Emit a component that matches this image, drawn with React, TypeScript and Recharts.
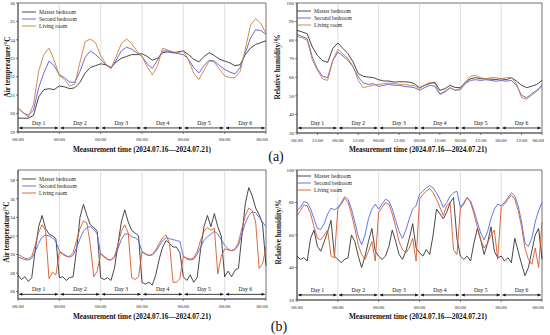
import React from 'react'
import { LineChart, Line, XAxis, YAxis, ReferenceLine, ReferenceArea } from 'recharts'

const FONT = '"Liberation Serif", "Times New Roman", serif'

// sampling grids (hours since 2024.07.16 00:00)
const HOURS_A = [0, 3, 6, 9, 12, 15, 18, 21, 24, 27, 30, 33, 36, 39, 42, 45, 48, 51, 54, 57, 60, 63, 66, 69, 72, 75, 78, 81, 84, 87, 90, 93, 96, 99, 102, 105, 108, 111, 114, 117, 120, 123, 126, 129, 132, 135, 138, 141, 144]
const HOURS_B = [0, 2, 4, 6, 8, 10, 12, 14, 16, 18, 20, 22, 24, 26, 28, 30, 32, 34, 36, 38, 40, 42, 44, 46, 48, 50, 52, 54, 56, 58, 60, 62, 64, 66, 68, 70, 72, 74, 76, 78, 80, 82, 84, 86, 88, 90, 92, 94, 96, 98, 100, 102, 104, 106, 108, 110, 112, 114, 116, 118, 120, 122, 124, 126, 128, 130, 132, 134, 136, 138, 140, 142, 144]

// (a) air temperature
const A_T_MASTER = [29.75, 29.75, 29.75, 29.9, 30.9, 31.3, 31.35, 31.3, 31.5, 31.45, 31.35, 31.4, 31.7, 32.2, 32.5, 32.6, 32.7, 32.65, 32.5, 32.8, 33.0, 33.1, 33.2, 33.2, 33.25, 33.1, 32.9, 33.0, 33.3, 33.35, 33.3, 33.35, 33.4, 33.2, 32.95, 32.8, 33.1, 33.3, 33.15, 32.95, 32.85, 32.75, 32.6, 32.65, 33.2, 33.55, 33.75, 33.85, 33.95]
const A_T_SECOND = [30.3, 30.05, 29.9, 30.2, 31.4, 32.2, 32.85, 32.6, 32.1, 31.95, 31.7, 31.7, 32.3, 33.05, 33.4, 33.2, 32.95, 32.65, 32.45, 32.9, 33.4, 33.6, 33.5, 33.3, 33.1, 32.7, 32.45, 32.9, 33.4, 33.4, 33.3, 33.25, 33.2, 32.95, 32.5, 32.2, 32.6, 32.9, 32.85, 32.6, 32.4, 32.25, 32.15, 32.5, 33.3, 34.1, 34.55, 34.5, 34.3]
const A_T_LIVING = [30.3, 30.05, 29.8, 30.5, 32.3, 33.2, 33.55, 32.9, 32.05, 31.85, 31.5, 31.6, 32.8, 33.9, 34.05, 33.85, 33.15, 32.7, 32.45, 33.1, 33.8, 34.05, 33.8, 33.4, 33.1, 32.55, 32.1, 32.6, 33.55, 33.45, 33.35, 33.3, 33.4, 32.9, 32.2, 31.85, 32.35, 32.85, 32.8, 32.4, 32.05, 31.95, 31.95, 32.3, 33.5, 34.8, 35.15, 34.9, 34.35]

// (a) relative humidity
const A_RH_MASTER = [85.3, 84.4, 83.5, 76.3, 71.8, 69, 68, 75.5, 78.5, 75.5, 72.7, 68.2, 62, 60.5, 60.1, 59.8, 58.7, 58, 58, 57.4, 57.6, 57.6, 57.4, 56.6, 54.4, 55.7, 56.6, 57.4, 53, 53.9, 55.7, 54.5, 54.4, 57.4, 59.2, 59.8, 59.2, 59.2, 59, 58.8, 59.2, 58.7, 59.8, 58, 55.7, 54.4, 55.2, 56.2, 58.4]
const A_RH_SECOND = [83.1, 82, 80.8, 70.9, 64.6, 60.5, 59.8, 69, 73.5, 71.5, 69.1, 65.5, 60.1, 56.9, 56.2, 56.6, 55.1, 55.7, 56.2, 55.7, 55.7, 55.1, 54.8, 54.4, 53, 54.4, 55.7, 55.1, 50.8, 52.1, 54.4, 53, 53.3, 56.6, 58.3, 58.7, 58.3, 58.7, 58.3, 57.9, 58.3, 57.9, 58.3, 55.7, 50.3, 49, 51.2, 53, 55.7]
const A_RH_LIVING = [82, 81.3, 79.9, 69.5, 63.7, 59.2, 58.3, 69, 75, 72.5, 70, 65.9, 58.3, 54.4, 55.1, 55.7, 56.2, 56.6, 56.9, 56.6, 56.2, 56.2, 55.7, 55.5, 53.9, 55.7, 57.4, 56.6, 51.2, 52.6, 54.4, 53, 53.9, 57.4, 60.5, 61, 59.8, 59.2, 59.8, 59.8, 59.2, 59.8, 59.8, 56.6, 49, 48.3, 50.3, 52.6, 55.1]

// (b) air temperature
const B_T_MASTER = [
  27.8, 27.3, 27.6, 27.1, 27.5, 30.5, 33.0, 34.2, 32.8, 32.2, 32.0, 31.7,
  27.5, 27.6, 27.2, 27.5, 27.6, 30.5, 34.0, 35.4, 34.2, 33.2, 32.9, 32.5,
  27.5, 27.3, 27.5, 27.2, 28.5, 31.0, 33.5, 34.8, 33.5, 32.6, 32.3, 32.0,
  27.0, 26.8, 27.0, 26.7, 27.8, 29.5, 30.8, 31.5, 31.2, 30.8, 30.8, 30.2,
  27.6, 27.2, 27.8, 27.0, 27.5, 30.5, 33.0, 34.2, 33.0, 34.4, 33.0, 32.0,
  27.6, 28.2, 27.6, 28.3, 28.5, 32.0, 35.5, 37.2, 36.3, 35.0, 34.3, 33.3,
  28.8]
const B_T_SECOND = [
  29.7, 29.6, 29.45, 29.4, 29.6, 30.3, 31.2, 31.9, 32.1, 32.0, 31.8, 31.4,
  30.4, 30.1, 29.85, 29.7, 29.9, 30.7, 31.7, 32.5, 32.9, 33.0, 32.7, 32.2,
  30.1, 29.7, 29.45, 29.4, 29.7, 30.6, 31.6, 32.2, 32.2, 31.9, 31.8, 31.5,
  30.3, 30.0, 29.9, 29.95, 30.3, 30.9, 31.5, 31.8, 31.7, 31.6, 31.5, 31.4,
  29.8, 29.5, 29.4, 29.5, 30.0, 30.8, 31.5, 31.9, 32.2, 32.5, 32.2, 31.6,
  31.0, 30.6, 30.4, 30.5, 31.0, 32.2, 33.4, 34.2, 34.6, 34.5, 34.0, 33.5,
  33.0]
const B_T_LIVING = [
  30.0, 29.8, 29.6, 29.5, 29.8, 31.0, 32.4, 33.2, 32.6, 27.4, 28.1, 27.8,
  30.3, 30.0, 29.8, 29.8, 30.2, 31.5, 32.8, 33.6, 33.4, 31.0, 27.6, 28.2,
  30.1, 29.8, 29.5, 29.4, 29.8, 31.0, 32.5, 33.2, 32.3, 27.5, 27.3, 27.6,
  30.3, 30.1, 29.9, 30.0, 30.5, 31.2, 31.8, 32.1, 31.2, 27.0, 27.0, 27.4,
  29.8, 29.6, 29.5, 29.6, 30.3, 31.5, 32.5, 32.9, 32.6, 32.8, 27.9, 29.8,
  30.6, 30.5, 30.4, 30.6, 31.3, 32.8, 34.2, 35.0, 34.7, 33.5, 28.5, 29.0,
  30.8]

// (b) relative humidity
const B_RH_MASTER = [
  47, 45, 46, 44, 58, 63, 53, 50, 56, 62, 69, 47,
  45, 43, 45, 46, 60, 56, 47, 40, 47, 56, 64, 50,
  47, 45, 47, 53, 63, 56, 48, 45, 50, 58, 67, 52,
  49, 47, 51, 48, 60, 76, 73, 70, 74, 80, 83, 58,
  47, 45, 47, 44, 55, 64, 57, 48, 55, 65, 50, 46,
  47, 44, 46, 43, 58, 50, 42, 35, 40, 50, 60, 64,
  45]
const B_RH_SECOND = [
  75, 77, 80.5, 80, 76, 70, 64, 63.5, 67, 73, 76.5, 75.5,
  77, 80, 83.5, 82, 76, 68, 59, 54, 60, 70, 76, 79,
  76, 79, 82, 81, 76, 69, 62, 58, 63, 70, 76, 78,
  85, 87, 89, 90.5, 89, 86, 82, 77, 80, 84, 86, 87,
  77, 80, 83, 81, 75, 68, 61, 57, 62, 70, 76, 79,
  78, 80, 83, 86, 84, 78, 68, 55, 53, 58, 68, 75,
  80]
const B_RH_LIVING = [
  72, 75, 78.5, 78, 73, 65, 58, 57, 60, 63, 47, 46,
  76, 79, 82.5, 80, 73, 64, 54, 48, 45, 50, 56, 44,
  74, 77, 80, 79, 73, 65, 56, 51, 49, 52, 58, 44,
  82, 85, 87, 88.5, 86, 82, 77, 72, 78, 80, 51, 48,
  76, 79, 83, 80, 73, 65, 57, 52, 55, 60, 63, 45,
  77, 79, 82, 84.5, 82, 75, 65, 52, 45, 42, 52, 40,
  68]

const DAYS = ['Day 1', 'Day 2', 'Day 3', 'Day 4', 'Day 5', 'Day 6']
const DAY_TICKS = [0, 24, 48, 72, 96, 120, 144]
const HALF_DAY_TICKS = [0, 12, 24, 36, 48, 60, 72, 84, 96, 108, 120, 132, 144]
const SERIES = ['Master bedroom', 'Second bedroom', 'Living room']

const COLORS_A = ['#333333', '#5b5bd6', '#c9803f']
const COLORS_B = ['#333333', '#4d6be0', '#d8592c']

const build = (hours: number[], m: number[], s: number[], l: number[]) =>
  hours.map((h, i) => ({ h, master: m[i], second: s[i], living: l[i] }))

// double headed arrow + day label, drawn by ReferenceLine
const DayArrow = (p: any) => {
  const { x1, y1, x2, label } = p
  const hl = 3.2, hw = 1.5
  return (
    <g>
      <line x1={x1} y1={y1} x2={x2} y2={y1} stroke="#111" strokeWidth={0.8} />
      <polygon points={`${x1},${y1} ${x1 + hl},${y1 - hw} ${x1 + hl},${y1 + hw}`} fill="#111" />
      <polygon points={`${x2},${y1} ${x2 - hl},${y1 - hw} ${x2 - hl},${y1 + hw}`} fill="#111" />
      <text x={(x1 + x2) / 2} y={y1 - 3.2} textAnchor="middle" fontSize={5.6} fontFamily={FONT} fill="#111">{label}</text>
    </g>
  )
}

interface PanelProps {
  left: number; top: number; width: number; height: number
  marginTop: number; marginLeft: number
  data: any[]
  yDomain: [number, number]
  yTicks: number[]
  xTicks: number[]
  arrowY: number
  colors: string[]
}

function Panel(p: PanelProps) {
  const tickStyle = { fontSize: 5, fill: '#222', fontFamily: FONT }
  const fmt = (v: number) => (v % 24 === 0 ? '00:00' : '12:00')
  return (
    <div style={{ position: 'absolute', left: p.left, top: p.top }}>
      <LineChart width={p.width} height={p.height} data={p.data}
        margin={{ top: p.marginTop, right: 2, bottom: 2, left: p.marginLeft }}>
        <XAxis dataKey="h" type="number" domain={[0, 144]} ticks={p.xTicks} tickFormatter={fmt}
          height={12} tickSize={2} tickMargin={3} tick={tickStyle}
          axisLine={{ stroke: '#333', strokeWidth: 0.7 }} tickLine={{ stroke: '#333', strokeWidth: 0.6 }} />
        <YAxis type="number" domain={p.yDomain} ticks={p.yTicks} allowDataOverflow width={14}
          tickSize={2} tickMargin={1} tick={tickStyle}
          axisLine={{ stroke: '#333', strokeWidth: 0.7 }} tickLine={{ stroke: '#333', strokeWidth: 0.6 }} />
        {[24, 48, 72, 96, 120].map(x => (
          <ReferenceLine key={x} x={x} stroke="#d0d0d0" strokeWidth={0.7} />
        ))}
        <ReferenceArea x1={0} x2={144} y1={p.yDomain[0]} y2={p.yDomain[1]} fill="none" stroke="#333" strokeWidth={0.7} ifOverflow="visible" />
        {DAYS.map((d, i) => (
          <ReferenceLine key={d} segment={[{ x: i * 24 + 0.7, y: p.arrowY }, { x: i * 24 + 23.3, y: p.arrowY }]}
            shape={(sp: any) => <DayArrow {...sp} label={d} />} />
        ))}
        <Line dataKey="master" stroke={p.colors[0]} strokeWidth={0.9} dot={false} isAnimationActive={false} />
        <Line dataKey="second" stroke={p.colors[1]} strokeWidth={0.9} dot={false} isAnimationActive={false} />
        <Line dataKey="living" stroke={p.colors[2]} strokeWidth={0.9} dot={false} isAnimationActive={false} />
      </LineChart>
    </div>
  )
}

function LegendBox({ left, top, colors, gap }: { left: number; top: number; colors: string[]; gap: number }) {
  return (
    <div style={{ position: 'absolute', left, top, fontFamily: FONT, fontSize: 5.6, color: '#222' }}>
      {SERIES.map((s, i) => (
        <div key={s} style={{ display: 'flex', alignItems: 'center', height: gap }}>
          <svg width={14} height={4} style={{ marginRight: 3 }}>
            <line x1={0} y1={2} x2={14} y2={2} stroke={colors[i]} strokeWidth={0.9} />
          </svg>
          <span>{s}</span>
        </div>
      ))}
    </div>
  )
}

const YTitle = ({ x, y, text }: { x: number; y: number; text: string }) => (
  <div style={{ position: 'absolute', left: x, top: y, transform: 'translate(-50%,-50%) rotate(-90deg)', whiteSpace: 'nowrap', fontFamily: FONT, fontWeight: 700, fontSize: 7.3, color: '#111' }}>{text}</div>
)
const XTitle = ({ x, y }: { x: number; y: number }) => (
  <div style={{ position: 'absolute', left: x, top: y, transform: 'translate(-50%,-50%)', whiteSpace: 'nowrap', fontFamily: FONT, fontWeight: 700, fontSize: 7.3, color: '#111' }}>Measurement time (2024.07.16—2024.07.21)</div>
)
const Tag = ({ x, y, text }: { x: number; y: number; text: string }) => (
  <div style={{ position: 'absolute', left: x, top: y, transform: 'translate(-50%,-50%)', fontFamily: FONT, fontSize: 14, color: '#111' }}>{text}</div>
)

export default function App() {
  const aT = build(HOURS_A, A_T_MASTER, A_T_SECOND, A_T_LIVING)
  const aRH = build(HOURS_A, A_RH_MASTER, A_RH_SECOND, A_RH_LIVING)
  const bT = build(HOURS_B, B_T_MASTER, B_T_SECOND, B_T_LIVING)
  const bRH = build(HOURS_B, B_RH_MASTER, B_RH_SECOND, B_RH_LIVING)

  return (
    <div style={{ position: 'absolute', left: 0, top: 0, width: 550, height: 335, background: '#fff', overflow: 'hidden' }}>
      {/* (a) */}
      <Panel left={0} top={0} width={268} height={146} marginTop={3} marginLeft={4} data={aT}
        yDomain={[29, 36]} yTicks={[29, 30, 31, 32, 33, 34, 35, 36]} xTicks={DAY_TICKS} arrowY={29.22} colors={COLORS_A} />
      <Panel left={278} top={0} width={266} height={147} marginTop={3} marginLeft={5} data={aRH}
        yDomain={[30, 100]} yTicks={[30, 40, 50, 60, 70, 80, 90, 100]} xTicks={HALF_DAY_TICKS} arrowY={32.7} colors={COLORS_A} />
      <LegendBox left={22} top={8} colors={COLORS_A} gap={7} />
      <LegendBox left={297} top={7} colors={COLORS_A} gap={7} />
      <YTitle x={7} y={67} text="Air temperature/°C" />
      <YTitle x={277} y={67} text="Relative humidity/%" />
      <XTitle x={142} y={149} />
      <XTitle x={418} y={149} />
      <Tag x={276} y={157} text="(a)" />

      {/* (b) */}
      <Panel left={0} top={166} width={268} height={147} marginTop={4} marginLeft={4} data={bT}
        yDomain={[25.2, 39.1]} yTicks={[26, 28, 30, 32, 34, 36, 38]} xTicks={DAY_TICKS} arrowY={25.7} colors={COLORS_B} />
      <Panel left={278} top={166} width={266} height={148} marginTop={4} marginLeft={5} data={bRH}
        yDomain={[20, 100]} yTicks={[20, 40, 60, 80, 100]} xTicks={DAY_TICKS} arrowY={23.1} colors={COLORS_B} />
      <LegendBox left={22} top={175} colors={COLORS_B} gap={7} />
      <LegendBox left={297} top={172} colors={COLORS_B} gap={7} />
      <YTitle x={6} y={232} text="Air temperature/°C" />
      <YTitle x={278} y={232} text="Relative humidity/%" />
      <XTitle x={142} y={316} />
      <XTitle x={418} y={316} />
      <Tag x={279} y={327} text="(b)" />
    </div>
  )
}
